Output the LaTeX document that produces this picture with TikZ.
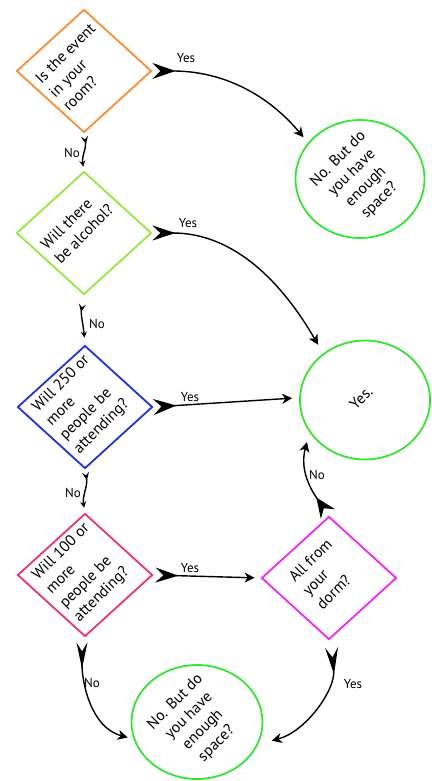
\documentclass[tikz,border=0pt]{standalone}
\usepackage{fontspec}
\setmainfont{PT Sans}
\usetikzlibrary{shapes.geometric,arrows.meta}
\definecolor{corange}{RGB}{255,140,50}
\definecolor{cyellowgreen}{RGB}{150,232,60}
\definecolor{cblue}{RGB}{30,50,220}
\definecolor{cpink}{RGB}{240,50,110}
\definecolor{cmagenta}{RGB}{240,40,240}
\definecolor{cgreen}{RGB}{50,230,50}
\tikzset{
  dia/.style={diamond, draw=#1, line width=1.8pt, minimum width=135pt, minimum height=123pt, inner sep=0pt, fill=white},
  circ/.style={ellipse, draw=cgreen, line width=1.8pt, inner sep=0pt, fill=white},
  qtext/.style={rotate=45, align=left, font=\fontsize{15.5}{19.5}\selectfont, inner sep=0pt},
  ctext/.style={rotate=45, align=center, font=\fontsize{15.5}{19.5}\selectfont, inner sep=0pt},
  lbl/.style={font=\fontsize{13}{14}\selectfont, inner sep=0pt},
  flow/.style={line width=1.4pt, black},
}
\begin{document}
\begin{tikzpicture}[x=1pt,y=1pt]
\useasboundingbox (0,0) rectangle (431,-781);
% shapes
\node[dia=corange] (d1) at (84,-71) {};
\node[dia=cyellowgreen] (d2) at (84,-233) {};
\node[dia=cblue] (d3) at (85,-407) {};
\node[dia=cpink] (d4) at (85,-575) {};
\node[dia=cmagenta] (d5) at (329,-578) {};
\node[circ, minimum width=129pt, minimum height=118pt] (c1) at (360,-179) {};
\node[circ, minimum width=130pt, minimum height=119pt] (c2) at (365,-400) {};
\node[circ, minimum width=131pt, minimum height=114pt] (c3) at (197,-722) {};
% texts
\node[qtext] (t1) at ([shift={(-5,4)}]d1) {Is the event\\in your\\room?};
\node[qtext] (t2) at ([shift={(-7,6)}]d2) {Will there\\be alcohol?};
\node[qtext] (t3) at ([shift={(-3,2)}]d3) {Will 250 or\\more\\people be\\attending?};
\node[qtext] (t4) at ([shift={(-3,2)}]d4) {Will 100 or\\more\\people be\\attending?};
\node[qtext] (t5) at ([shift={(-5,4)}]d5) {All from\\your\\dorm?};
\node[ctext] (tc1) at ([shift={(-1,-1)}]c1) {No. But do\\you have\\enough\\space?};
\node[ctext] (tc2) at ([shift={(-4,2)}]c2) {Yes.};
\node[ctext] (tc3) at ([shift={(-1,-1)}]c3) {No. But do\\you have\\enough\\space?};
% connectors
\coordinate (e10) at (307,-442);
\draw[flow, {Stealth[reversed,length=23pt,width=16pt,inset=8pt]}-{Stealth[length=10pt,width=10pt,inset=3pt]}, shorten >=7pt]
  (d1.east) to[out=0,in=130] (c1.145);
\draw[flow, {Stealth[reversed,length=8pt,width=7pt,inset=3pt]}-{Stealth[length=6pt,width=6pt,inset=2pt]}, shorten <=3pt, shorten >=4pt]
  (d1.south) to[out=-80,in=100] (d2.north);
\draw[flow, {Stealth[reversed,length=23pt,width=15pt,inset=8pt]}-{Stealth[length=10pt,width=10pt,inset=3pt]}, shorten >=10pt]
  (d2.east) to[out=0,in=120] (c2.132);
\draw[flow, {Stealth[reversed,length=8pt,width=7pt,inset=3pt]}-{Stealth[length=6pt,width=6pt,inset=2pt]}, shorten <=9pt, shorten >=7pt]
  (d2.south) to[out=-100,in=95] (d3.north);
\draw[flow, {Stealth[reversed,length=23pt,width=16pt,inset=8pt]}-{Stealth[length=10pt,width=10pt,inset=3pt]}, shorten >=7pt]
  (d3.east) -- (c2.178);
\draw[flow, {Stealth[reversed,length=8pt,width=7pt,inset=3pt]}-{Stealth[length=6pt,width=6pt,inset=2pt]}, shorten <=3pt, shorten >=5pt]
  (d3.south) to[out=-80,in=100] (d4.north);
\draw[flow, {Stealth[reversed,length=23pt,width=15pt,inset=8pt]}-{Stealth[length=10pt,width=10pt,inset=3pt]}, shorten <=2pt, shorten >=6pt]
  (d4.east) -- (d5.west);
\draw[flow, {Stealth[reversed,length=26pt,width=11pt,inset=9pt]}-{Stealth[length=10pt,width=10pt,inset=3pt]}, shorten <=5pt, shorten >=6pt]
  ([xshift=-3pt]d4.south) to[out=-90,in=165] (c3.195);
\draw[flow, {Stealth[reversed,length=27pt,width=13pt,inset=10pt]}-{Stealth[length=10pt,width=10pt,inset=3pt]}, shorten <=7pt, shorten >=14pt]
  ([xshift=2pt]d5.south) to[out=-85,in=15] (c3.-20);
\draw[flow, {Stealth[reversed,length=20pt,width=17pt,inset=7pt]}-{Stealth[length=10pt,width=10pt,inset=3pt]}, shorten <=2pt]
  (d5.north) to[out=125,in=-105] (e10);
% labels
\node[lbl] (l1) at (186,-58) {Yes};
\node[lbl] (l2) at (72,-153) {No};
\node[lbl] (l3) at (188,-223) {Yes};
\node[lbl] (l4) at (97,-324) {No};
\node[lbl] (l5) at (190,-397) {Yes};
\node[lbl] (l6) at (73,-493) {No};
\node[lbl] (l7) at (190,-568) {Yes};
\node[lbl] (l8) at (92,-683) {No};
\node[lbl] (l9) at (353,-684) {Yes};
\node[lbl] (l10) at (317,-475) {No};
\end{tikzpicture}
\end{document}
